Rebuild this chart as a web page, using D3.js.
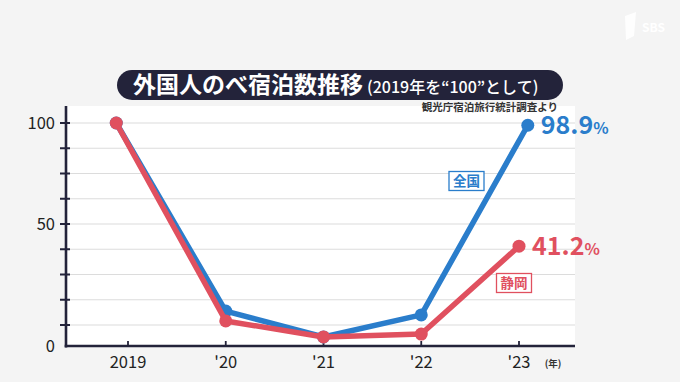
<!DOCTYPE html>
<html><head><meta charset="utf-8">
<script src="https://cdn.jsdelivr.net/npm/d3@7"></script>
<style>
html,body{margin:0;padding:0;background:#f4f4f4;}
svg{display:block;}
text{font-family:"Noto Sans CJK JP","Noto Sans",sans-serif;}
</style></head>
<body>
<svg id="c" width="680" height="382"></svg>
<script>
// ---- data ----
const yearLabels = ["2019", "'20", "'21", "'22", "'23"];
const tickYears = [2019, 2020, 2021, 2022, 2023];
const seriesNames = ["全国", "静岡"];
const zenkokuYears = [2018.88, 2020, 2021, 2022, 2023.09];
const zenkokuValues = [100, 15.5, 4.3, 14, 98.9];
const shizuokaYears = [2018.88, 2020, 2021, 2022, 2023];
const shizuokaValues = [100, 11.6, 4.3, 5.7, 41.2];
const yMajorTicks = [0, 50, 100];
const yMinorTicks = [10, 20, 30, 40, 62.5, 75, 87.5];
const titleMain = "外国人のべ宿泊数推移";
const titleSub = "(2019年を“100”として)";
const sourceText = "観光庁宿泊旅行統計調査より";

// ---- layout ----
const svg = d3.select("#c");
const L = 66, R = 575, T = 106, B = 346;
const x = d3.scaleLinear().domain([2019, 2023]).range([128, 519]);
const y = d3.scaleLinear().domain([0, 10, 50, 100]).range([B, 325, 224, 123]);
const blue = "#2a7dcb", red = "#e0505f", dark = "#23233a";

// SBS logo (faint)
svg.append("text").attr("x", 642).attr("y", 32).attr("fill", "#ffffff")
  .attr("font-size", 12).attr("font-weight", "bold").attr("font-family", "Liberation Serif, serif").text("SBS");
svg.append("path").attr("d", "M625,16 L636,12 L634,36 L626,40 Z").attr("fill", "#ffffff").attr("opacity", 0.9);

// plot background
svg.append("rect").attr("x", L).attr("y", T).attr("width", R - L).attr("height", B - T).attr("fill", "#ffffff");

// gridlines
const gridVals = yMinorTicks.concat([50, 100]);
svg.append("g").selectAll("line").data(gridVals).join("line")
  .attr("x1", L).attr("x2", R).attr("y1", d => y(d)).attr("y2", d => y(d))
  .attr("stroke", "#dcdcdc").attr("stroke-width", 1.2);

// title pill
svg.append("rect").attr("x", 117).attr("y", 70).attr("width", 446).attr("height", 30).attr("rx", 15)
  .attr("fill", dark);
const tt = svg.append("text").attr("x", 133).attr("y", 93).attr("fill", "#fff").attr("font-weight", "bold");
tt.append("tspan").attr("font-size", 23).text(titleMain);
tt.append("tspan").attr("font-size", 16).attr("dx", 4).attr("font-weight", "500").text(titleSub);

// source
svg.append("text").attr("x", 558).attr("y", 111).attr("text-anchor", "end").attr("font-size", 10.5)
  .attr("font-weight", "bold").attr("fill", "#333").text(sourceText);

// y axis
svg.append("line").attr("x1", L).attr("x2", L).attr("y1", T).attr("y2", B + 1.5).attr("stroke", dark).attr("stroke-width", 2.6);
svg.append("g").selectAll("line").data(yMajorTicks.filter(d => d > 0).concat(yMinorTicks)).join("line")
  .attr("x1", 60).attr("x2", 70).attr("y1", d => y(d)).attr("y2", d => y(d))
  .attr("stroke", dark).attr("stroke-width", 2);
svg.append("g").selectAll("text").data(yMajorTicks).join("text")
  .attr("x", 55).attr("y", d => y(d)).attr("dy", "0.36em").attr("text-anchor", "end")
  .attr("font-size", 16.5).attr("fill", "#222").attr("font-family", "Roboto, sans-serif").text(d => d);

// x axis
svg.append("line").attr("x1", L - 1.3).attr("x2", R).attr("y1", B).attr("y2", B).attr("stroke", dark).attr("stroke-width", 2.6);
svg.append("g").selectAll("line").data(tickYears).join("line")
  .attr("x1", d => x(d)).attr("x2", d => x(d)).attr("y1", B).attr("y2", B - 5)
  .attr("stroke", dark).attr("stroke-width", 1.8);
svg.append("g").selectAll("text").data(tickYears).join("text")
  .attr("x", d => x(d)).attr("y", 368).attr("text-anchor", "middle")
  .attr("font-size", 16.5).attr("fill", "#222").attr("font-family", "Roboto, sans-serif")
  .text((d, i) => yearLabels[i]);
svg.append("text").attr("x", 553).attr("y", 367).attr("text-anchor", "middle").attr("font-size", 9.5)
  .attr("font-weight", "bold").attr("fill", "#333").text("(年)");

// series
const line = d3.line().x(d => x(d[0])).y(d => y(d[1]));
const series = [
  {name: seriesNames[0], pts: d3.zip(zenkokuYears, zenkokuValues), color: blue},
  {name: seriesNames[1], pts: d3.zip(shizuokaYears, shizuokaValues), color: red}
];
series.forEach(s => {
  svg.append("path").datum(s.pts).attr("d", line).attr("fill", "none")
    .attr("stroke", s.color).attr("stroke-width", 5.5).attr("stroke-linejoin", "round");
  svg.append("g").selectAll("circle").data(s.pts).join("circle")
    .attr("cx", d => x(d[0])).attr("cy", d => y(d[1])).attr("r", 6.5).attr("fill", s.color);
  const last = s.pts[s.pts.length - 1];
  const vt = svg.append("text").attr("x", x(last[0]) + 13).attr("y", y(last[1]) + 3).attr("dy", "0.36em")
    .attr("fill", s.color).attr("font-weight", "bold").attr("font-family", "Roboto, sans-serif");
  vt.append("tspan").attr("font-size", 25).text(last[1].toFixed(1));
  vt.append("tspan").attr("font-size", 16).text("%");
});

// series name boxes
const nameBoxes = [
  {name: seriesNames[0], cx: 466.5, cy: 181, color: blue},
  {name: seriesNames[1], cx: 514, cy: 283, color: red}
];
nameBoxes.forEach(b => {
  svg.append("rect").attr("x", b.cx - 17.5).attr("y", b.cy - 9.5).attr("width", 35).attr("height", 19)
    .attr("fill", "#fff").attr("stroke", b.color).attr("stroke-width", 1.3);
  svg.append("text").attr("x", b.cx).attr("y", b.cy).attr("dy", "0.36em").attr("text-anchor", "middle")
    .attr("font-size", 13.5).attr("font-weight", "bold").attr("fill", b.color).text(b.name);
});
</script>
</body></html>
